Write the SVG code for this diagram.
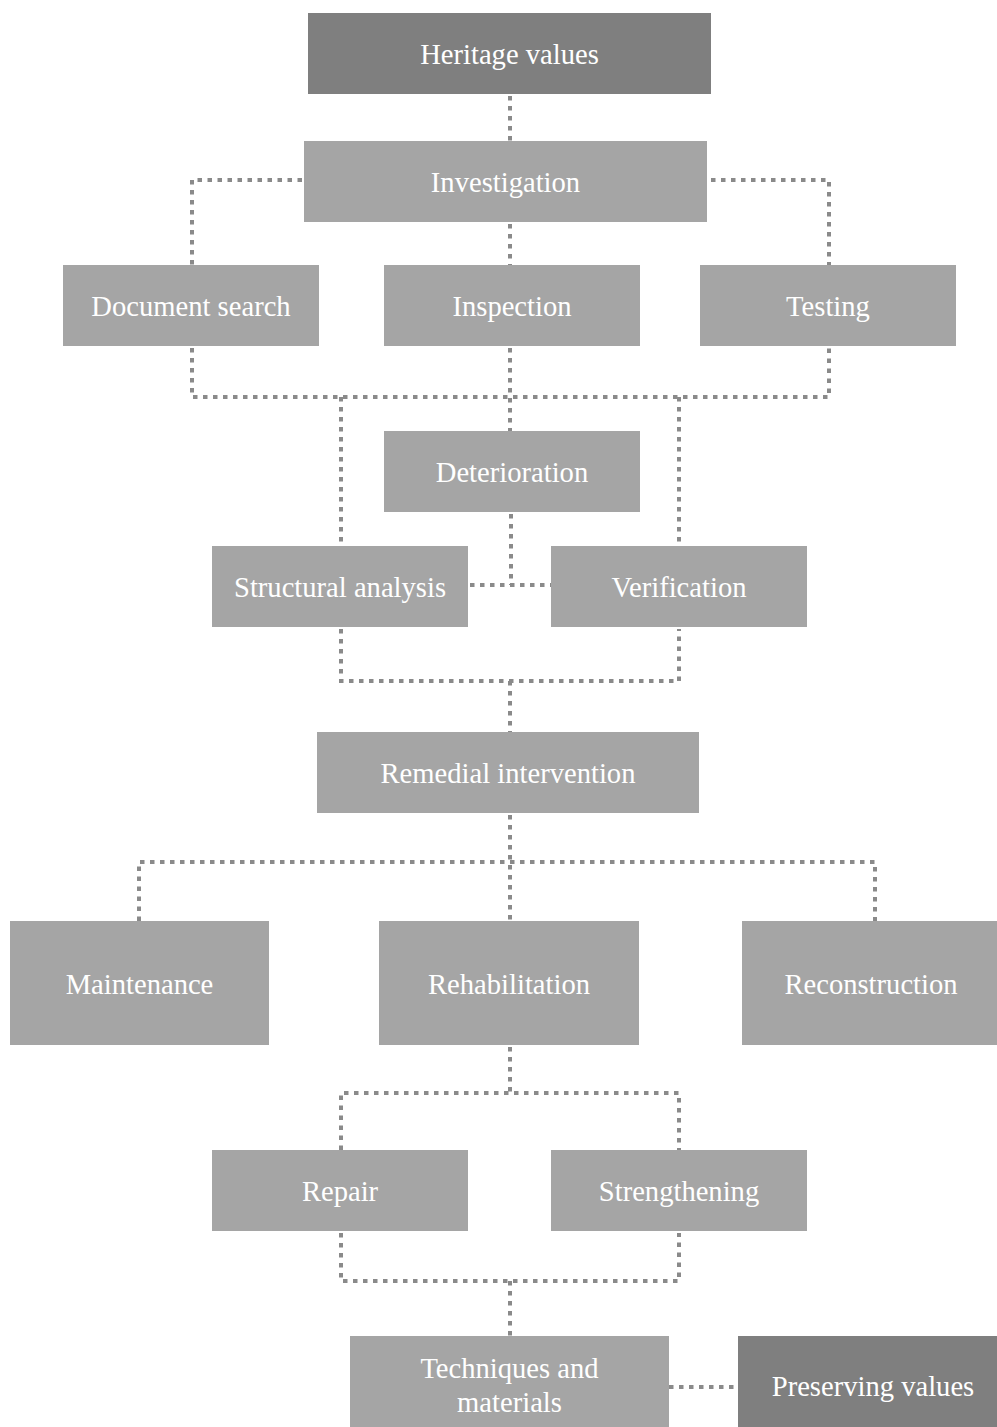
<svg xmlns="http://www.w3.org/2000/svg" width="997" height="1427" viewBox="0 0 997 1427">
<style>
.n{fill:#a5a5a5}
.d{fill:#7f7f7f}
text{font-family:"Liberation Serif","Times New Roman",serif;font-size:28.6px;fill:#ffffff;text-anchor:middle}
.c{fill:none;stroke:#8a8a8a;stroke-width:4;stroke-dasharray:4.5 5.5}
</style>
<rect width="997" height="1427" fill="#ffffff"/>
<g id="connectors">
<path class="c" d="M510 96V141"/>
<path class="c" d="M302 180H192V265"/>
<path class="c" d="M711 180H829V265"/>
<path class="c" d="M510 224V265"/>
<path class="c" d="M192 348V397H829V348"/>
<path class="c" d="M510 348V431"/>
<path class="c" d="M341 397V546"/>
<path class="c" d="M679 397V546"/>
<path class="c" d="M511 514V585"/>
<path class="c" d="M470 585H551"/>
<path class="c" d="M341 629V681H679V629"/>
<path class="c" d="M510 681V732"/>
<path class="c" d="M510 815V921"/>
<path class="c" d="M139 921V862H875V921"/>
<path class="c" d="M510 1047V1093"/>
<path class="c" d="M341 1150V1093H679V1150"/>
<path class="c" d="M341 1233V1281H679V1233"/>
<path class="c" d="M510 1281V1336"/>
<path class="c" d="M669 1387H738"/>
</g>
<g id="heritage-values"><rect class="d" x="308" y="13" width="403" height="81"/><text x="509.5" y="63.5">Heritage values</text></g>
<g id="investigation"><rect class="n" x="304" y="141" width="403" height="81"/><text x="505.5" y="192">Investigation</text></g>
<g id="document-search"><rect class="n" x="63" y="265" width="256" height="81"/><text x="191" y="315.5">Document search</text></g>
<g id="inspection"><rect class="n" x="384" y="265" width="256" height="81"/><text x="512" y="315.5">Inspection</text></g>
<g id="testing"><rect class="n" x="700" y="265" width="256" height="81"/><text x="828" y="315.5">Testing</text></g>
<g id="deterioration"><rect class="n" x="384" y="431" width="256" height="81"/><text x="512" y="481.5">Deterioration</text></g>
<g id="structural-analysis"><rect class="n" x="212" y="546" width="256" height="81"/><text x="340" y="596.5">Structural analysis</text></g>
<g id="verification"><rect class="n" x="551" y="546" width="256" height="81"/><text x="679" y="596.5">Verification</text></g>
<g id="remedial-intervention"><rect class="n" x="317" y="732" width="382" height="81"/><text x="508" y="782.5">Remedial intervention</text></g>
<g id="maintenance"><rect class="n" x="10" y="921" width="259" height="124"/><text x="139.5" y="993.5">Maintenance</text></g>
<g id="rehabilitation"><rect class="n" x="379" y="921" width="260" height="124"/><text x="509" y="993.5">Rehabilitation</text></g>
<g id="reconstruction"><rect class="n" x="742" y="921" width="255" height="124"/><text x="871" y="993.5">Reconstruction</text></g>
<g id="repair"><rect class="n" x="212" y="1150" width="256" height="81"/><text x="340" y="1200.5">Repair</text></g>
<g id="strengthening"><rect class="n" x="551" y="1150" width="256" height="81"/><text x="679" y="1200.5">Strengthening</text></g>
<g id="techniques-and-materials"><rect class="n" x="350" y="1336" width="319" height="91"/><text x="509.5" y="1377.5">Techniques and</text><text x="509.5" y="1411.5">materials</text></g>
<g id="preserving-values"><rect class="d" x="738" y="1336" width="259" height="91"/><text x="873" y="1395.5">Preserving values</text></g>
</svg>
